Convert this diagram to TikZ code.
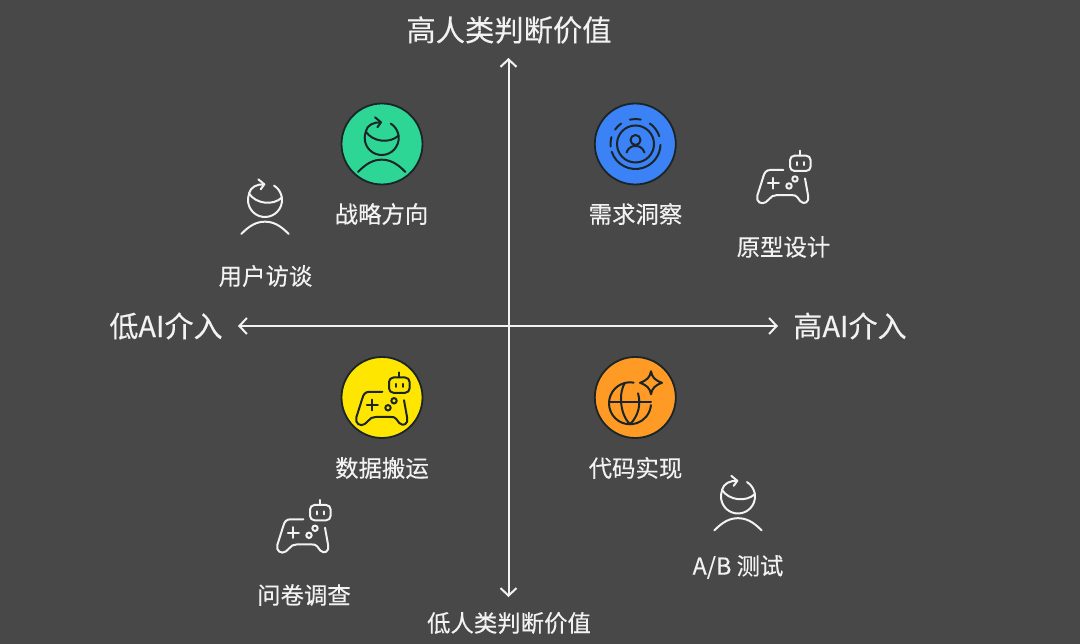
\documentclass[tikz,border=0pt]{standalone}
\usepackage{fontspec}
\setmainfont[FakeBold=0.3]{Noto Sans CJK SC}
\usetikzlibrary{arrows.meta}
\definecolor{bgc}{HTML}{484848}
\definecolor{inkc}{HTML}{1B2426}
\definecolor{linec}{HTML}{F2F2F2}
\tikzset{
  iconline/.style={line width=2pt,line cap=round,line join=round},
  disc/.style={circle,draw=inkc,line width=1.8pt,minimum size=81pt,inner sep=0pt},
  lab/.style={text=linec,font=\fontsize{23.4}{26}\selectfont,inner sep=0pt},
  axislab/.style={text=linec,font=\fontsize{29}{31}\selectfont,inner sep=0pt},
  axisline/.style={draw=linec,line width=2pt,{Straight Barb[length=7.5pt,width=16pt]}-{Straight Barb[length=7.5pt,width=16pt]}},
  pics/personicon/.style={code={
    \draw[iconline,#1] (58:17) arc[start angle=58,end angle=-202,radius=17];
    \draw[iconline,#1] (-16,6.5) .. controls (-9,-4) and (8,-6) .. (17,2.5);
    \draw[iconline,#1] (-16,6.5) .. controls (-14.5,13) and (-8,16) .. (-0.7,15.7);
    \draw[iconline,#1] (-6.7,20.7) -- (-0.7,15.7) -- (-4.3,10.7);
    \draw[iconline,#1] (-23.7,-34) .. controls (-15,-25) and (-8,-21.7) .. (0,-21.7) .. controls (8,-21.7) and (15,-25) .. (23.7,-34);
  }},
  pics/padicon/.style={code={
    \draw[iconline,#1] (0,6.7) -- (-13,6.7) .. controls (-17,6.7) and (-19,4) .. (-20,0) -- (-26,-19) .. controls (-27.5,-25) and (-22,-28.5) .. (-17.5,-25.5) -- (-11,-19.5) .. controls (-9.5,-18.5) and (-8.5,-18.5) .. (-6.7,-18.5) -- (9,-18.5) .. controls (11,-18.5) and (12,-18.5) .. (14,-20.5) -- (17,-24.5) .. controls (21,-28.5) and (26,-25.5) .. (24.9,-19.5) -- (21.7,-1.7);
    \draw[iconline,#1,rounded corners=4.5pt] (6.7,5.7) rectangle (27.3,21);
    \draw[iconline,#1] (16.9,21) -- (16.9,26);
    \draw[iconline,#1] (13.5,11.5) -- (13.5,14.5);
    \draw[iconline,#1] (20.2,11.5) -- (20.2,14.5);
    \draw[iconline,#1] (-15.5,-6.6) -- (-4.5,-6.6);
    \draw[iconline,#1] (-10,-12) -- (-10,-1.2);
    \draw[iconline,#1] (5.7,-9.3) circle (2.7);
    \draw[iconline,#1] (11.7,-2.3) circle (2.7);
  }},
  pics/scanicon/.style={code={
    \draw[iconline,#1] (0,0) circle (18.5);
    \draw[iconline,#1] (0,4) circle (5);
    \draw[iconline,#1] (-9,-8.5) .. controls (-7,-3) and (-3,-2) .. (0,-2) .. controls (3,-2) and (7,-3) .. (9,-8.5);
    \draw[iconline,#1] (198:25) arc[start angle=198,end angle=358,radius=25];
    \draw[iconline,#1] (18:25) arc[start angle=18,end angle=55,radius=25];
    \draw[iconline,#1] (78:25) arc[start angle=78,end angle=103,radius=25];
    \draw[iconline,#1] (125:25) arc[start angle=125,end angle=145,radius=25];
    \draw[iconline,#1] (164:25) arc[start angle=164,end angle=186,radius=25];
  }},
  pics/globeicon/.style={code={
    \draw[iconline,#1] (80:21) arc[start angle=80,end angle=355,radius=21];
    \draw[iconline,#1] (-21,1) -- (21,1);
    \draw[iconline,#1] (-5,20.5) .. controls (-11,12) and (-11,-10) .. (0,-21);
    \draw[iconline,#1] (8,10) .. controls (11,0) and (9,-12) .. (0,-21);
    \draw[iconline,#1] (21,32) .. controls (22,26) and (25,23) .. (32,20.5) .. controls (25,18) and (22,15) .. (21,9) .. controls (20,15) and (17,18) .. (10,20.5) .. controls (17,23) and (20,26) .. (21,32) -- cycle;
  }}
}
\begin{document}
\begin{tikzpicture}[x=1pt,y=1pt]
\useasboundingbox (0,0) rectangle (1080,644);
\fill[bgc] (0,0) rectangle (1080,644);
% axes
\coordinate (axt) at (508.5,586);
\coordinate (axb) at (508.5,47);
\coordinate (axl) at (238,318);
\coordinate (axr) at (778,318);
\draw[axisline] (axb) -- (axt);
\draw[axisline] (axl) -- (axr);
% discs
\node[disc,fill={rgb,255:red,46;green,214;blue,150}] (dg) at (382,500) {};
\node[disc,fill={rgb,255:red,59;green,130;blue,246}] (db) at (635.3,500) {};
\node[disc,fill={rgb,255:red,255;green,230;blue,0}] (dy) at (382,246.5) {};
\node[disc,fill={rgb,255:red,255;green,154;blue,36}] (do) at (635.3,246.5) {};
% icons
\pic at (381.7,506) {personicon={draw=inkc}};
\pic at (635.5,500) {scanicon={draw=inkc}};
\pic at (382.3,245.5) {padicon={draw=inkc}};
\pic at (630,240.7) {globeicon={draw=inkc}};
\pic at (265,444) {personicon={draw=linec}};
\pic at (783.3,467.3) {padicon={draw=linec}};
\pic at (303.3,118) {padicon={draw=linec}};
\pic at (738,147.5) {personicon={draw=linec}};
% labels
\node[text=linec,font=\fontsize{29.3}{31}\selectfont,inner sep=0pt] (t1) at (509,614) {高人类判断价值};
\node[lab] (t2) at (509,21) {低人类判断价值};
\node[axislab] (t3) at (166,318) {低AI介入};
\node[axislab] (t4) at (850,318) {高AI介入};
\node[lab] (l1) at (381.5,430) {战略方向};
\node[lab] (l2) at (265.5,368) {用户访谈};
\node[lab] (l3) at (635.5,430) {需求洞察};
\node[lab] (l4) at (783.5,397) {原型设计};
\node[lab] (l5) at (382,176) {数据搬运};
\node[lab] (l6) at (304,49) {问卷调查};
\node[lab] (l7) at (635.5,176) {代码实现};
\node[lab] (l8) at (738,77) {A/B 测试};
\end{tikzpicture}
\end{document}
